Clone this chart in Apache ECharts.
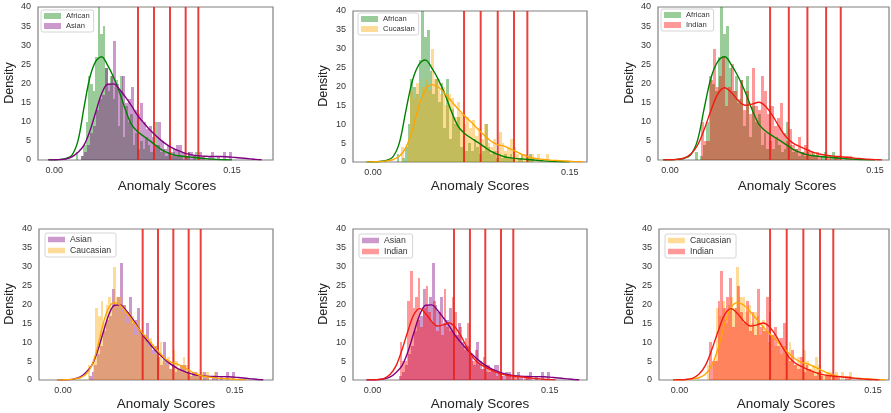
<!DOCTYPE html>
<html>
<head>
<meta charset="utf-8">
<script src="https://cdn.jsdelivr.net/npm/echarts@6/dist/echarts.min.js"></script>
<style>
  html, body { margin: 0; padding: 0; background: #fff; }
  #chart { width: 891px; height: 413px; }
</style>
</head>
<body>
<div id="chart"></div>
<script>
// ---- histogram bins (density), one set per group ----
const africanStart = 0.018
const africanWidth = 0.0021
const africanHist = [2, 0, 1, 4, 10, 22, 20, 18, 27, 40, 33, 35, 24, 18, 22, 16, 21, 9, 22, 6,
  14, 10, 12, 4, 7, 3, 5, 3, 6, 4, 2, 3, 10, 4, 2, 3, 1, 2, 1, 2,
  1, 2, 1, 0, 1, 2, 0, 1, 2, 1]

const asianStart = 0.0225
const asianWidth = 0.0025
const asianHist = [1, 2, 4, 7, 9, 13, 16, 17, 24, 20, 22, 31, 20, 18, 22, 15, 16, 19, 13, 12,
  15, 10, 8, 9, 6, 4, 10, 5, 3, 4, 2, 3, 4, 4, 2, 1, 2, 2, 1, 0,
  2, 1, 0, 1, 2, 0, 1, 0, 2, 0, 2]

const caucasianStart = 0.0215
const caucasianWidth = 0.00225
const caucasianHist = [4, 0, 5, 19, 17, 21, 15, 20, 22, 19, 30, 22, 22, 18, 20, 15, 18, 17, 12, 16,
  13, 10, 12, 9, 11, 7, 9, 6, 10, 5, 4, 6, 3, 8, 5, 3, 4, 6, 4, 2,
  1, 2, 2, 1, 2, 0, 2, 0, 0, 2]

const indianStart = 0.0229
const indianWidth = 0.0022
const indianHist = [10, 5, 5, 21, 29, 19, 22, 27, 14, 19, 25, 18, 15, 21, 13, 18, 12, 24, 14, 13,
  22, 18, 12, 14, 9, 11, 15, 7, 5, 8, 4, 3, 6, 2, 4, 3, 2, 1, 2, 1,
  0, 1, 1, 0, 1, 1, 0, 0, 1, 1]

// ---- KDE curves, sampled every kdeStep from kdeStart ----
const kdeStart = -0.005
const kdeStep = 0.005
const africanKde = [0.02, 0.05, 0.15, 0.4, 1.3, 5, 13.5, 21.5, 25.8, 27, 24.8, 21.7, 17.8, 13.2, 9.4, 7.5,
  6.3, 5.2, 4, 2.8, 2, 1.4, 1.1, 0.9, 0.75, 0.6, 0.45, 0.3, 0.2, 0.1, 0.05, 0.02]
const asianKde = [0.02, 0.05, 0.1, 0.3, 0.8, 2, 3.8, 7.5, 12.5, 17.3, 19.8, 19.9, 18.5, 16.5, 14.3, 11.8,
  9.9, 8.1, 6.6, 5.2, 4, 3.1, 2.4, 1.8, 1.4, 1.15, 1, 0.95, 0.9, 0.9, 0.85, 0.75, 0.6, 0.45, 0.3, 0.15, 0.05]
const caucasianKde = [0.02, 0.05, 0.1, 0.3, 0.6, 1.5, 3.8, 8.5, 14.8, 19.2, 20.5, 19.8, 18, 16, 14, 12.2,
  10.5, 8.7, 7, 5.5, 4.6, 4.2, 3.4, 2.6, 1.8, 1.2, 0.9, 0.7, 0.5, 0.4, 0.3, 0.2, 0.1, 0.05]
const indianKde = [0.02, 0.05, 0.15, 0.45, 1.5, 3.8, 8, 13, 17.3, 18.9, 17.6, 15.5, 14.3, 14.6, 15.1, 14,
  11.6, 8.6, 6, 4.4, 3.5, 2.7, 2, 1.5, 1.2, 1, 0.85, 0.7, 0.5, 0.35, 0.2, 0.1, 0.03]

// ---- panels ----
const panelPairs = [['African', 'Asian'], ['African', 'Caucasian'], ['African', 'Indian'],
  ['Asian', 'Caucasian'], ['Asian', 'Indian'], ['Caucasian', 'Indian']]
const panelLegendNames = [['African', 'Asian'], ['African', 'Cucasian'], ['African', 'Indian'],
  ['Asian', 'Caucasian'], ['Asian', 'Indian'], ['Caucasian', 'Indian']]
const panelXRange = [[-0.0137, 0.1846], [-0.0153, 0.1632], [-0.0088, 0.1602],
  [-0.0210, 0.1835], [-0.0165, 0.1816], [-0.0159, 0.1624]]
const panelThresholds = [
  [0.0707, 0.0842, 0.0977, 0.1109, 0.1216],
  [0.0694, 0.0821, 0.0951, 0.1075, 0.1177],
  [0.0732, 0.0869, 0.1005, 0.1142, 0.1249],
  [0.0696, 0.0830, 0.0964, 0.1098, 0.1203],
  [0.0690, 0.0825, 0.0955, 0.1088, 0.1192],
  [0.0702, 0.0831, 0.0960, 0.1089, 0.1192]
]
const xTickValues = [0, 0.15]
const yMax = 40
const yStep = 5
const xTitle = 'Anomaly Scores'
const yTitle = 'Density'

const groups = {
  African: { start: africanStart, width: africanWidth, hist: africanHist, kde: africanKde },
  Asian: { start: asianStart, width: asianWidth, hist: asianHist, kde: asianKde },
  Caucasian: { start: caucasianStart, width: caucasianWidth, hist: caucasianHist, kde: caucasianKde },
  Indian: { start: indianStart, width: indianWidth, hist: indianHist, kde: indianKde }
}

// styles
const FONT = '"Liberation Sans", Arial, sans-serif'
const fillColor = {
  African: 'rgba(0,128,0,0.4)',
  Asian: 'rgba(128,0,128,0.4)',
  Caucasian: 'rgba(255,165,0,0.4)',
  Indian: 'rgba(255,0,0,0.4)'
}
const lineColor = { African: '#008000', Asian: '#800080', Caucasian: '#ffa500', Indian: '#f01a10' }
const CUT_COLOR = 'rgba(232,30,25,0.85)'

// layout (pixels)
const gridBoxes = [
  { left: 38, top: 7, width: 235, height: 153 },
  { left: 353, top: 11, width: 234, height: 151 },
  { left: 658, top: 7, width: 231, height: 153 },
  { left: 39, top: 229, width: 234, height: 151 },
  { left: 353, top: 229, width: 234, height: 151 },
  { left: 659, top: 229, width: 230, height: 151 }
]
const legendPos = [[41, 10], [358, 13], [661, 9], [45, 233], [359, 234], [665, 234]]
const xTitlePos = [[167, 186], [480, 186], [787, 186], [166, 404], [480, 404], [786, 404]]
const yTitlePos = [[10, 83], [324, 86], [630, 83], [10, 304], [324, 304], [630, 304]]

function histData(g) {
  return g.hist.map((h, i) => [g.start + i * g.width, g.start + (i + 1) * g.width, h])
}

function kdeData(g) {
  return g.kde.map((v, i) => [kdeStart + i * kdeStep, v])
}

// snap bar edges to whole pixels so neighbouring bins meet without seams
function renderBar(params, api) {
  const top = api.coord([api.value(0), api.value(2)])
  const base = api.coord([api.value(1), 0])
  const x0 = Math.round(top[0])
  const x1 = Math.round(base[0])
  const y0 = Math.round(top[1])
  const y1 = Math.round(base[1])
  return {
    type: 'rect',
    shape: { x: x0, y: y0, width: x1 - x0, height: y1 - y0 },
    style: { fill: api.visual('color') }
  }
}

function renderCut(params, api) {
  const a = api.coord([api.value(0), 0])
  const b = api.coord([api.value(0), yMax])
  return {
    type: 'line',
    shape: { x1: a[0], y1: a[1], x2: b[0], y2: b[1] },
    style: { stroke: CUT_COLOR, lineWidth: 2 }
  }
}

const grid = []
const xAxis = []
const yAxis = []
const legend = []
const series = []
const graphic = []

panelPairs.forEach((pair, p) => {
  const bottomRow = p >= 3
  grid.push(Object.assign({ show: true, borderColor: '#808080', borderWidth: 1.2, containLabel: false, outerBoundsMode: 'none' }, gridBoxes[p]))
  xAxis.push({
    type: 'value', gridIndex: p,
    min: panelXRange[p][0], max: panelXRange[p][1],
    axisLine: { show: false }, axisTick: { show: false }, splitLine: { show: false },
    axisLabel: {
      customValues: xTickValues, formatter: v => v.toFixed(2),
      fontSize: 9, color: '#333', margin: 6, fontFamily: FONT
    }
  })
  yAxis.push({
    type: 'value', gridIndex: p, min: 0, max: yMax, interval: yStep,
    axisLine: { show: false }, axisTick: { show: false }, splitLine: { show: false },
    axisLabel: { fontSize: 9, color: '#333', margin: 7, fontFamily: FONT }
  })
  legend.push({
    left: legendPos[p][0], top: legendPos[p][1], orient: 'vertical',
    data: panelLegendNames[p], icon: 'rect',
    itemWidth: 17, itemHeight: bottomRow ? 5.5 : 6, itemGap: 2,
    textStyle: { fontSize: bottomRow ? 8.7 : 7.6, color: '#333', fontFamily: FONT },
    backgroundColor: '#fff', borderColor: '#d5d5d5', borderWidth: 1, borderRadius: 2,
    padding: bottomRow ? [2, 5, 2, 3] : [2, 4, 2, 3],
    selectedMode: false
  })

  // histograms first, then KDE lines, then cut lines on top
  pair.forEach((name, k) => {
    series.push({
      type: 'custom', name: panelLegendNames[p][k],
      xAxisIndex: p, yAxisIndex: p,
      renderItem: renderBar, clip: true,
      itemStyle: { color: fillColor[name] },
      encode: { x: [0, 1], y: 2 },
      data: histData(groups[name]),
      silent: true
    })
  })
  pair.forEach(name => {
    series.push({
      type: 'line', name: name + ' kde',
      xAxisIndex: p, yAxisIndex: p,
      data: kdeData(groups[name]), smooth: 0.35, showSymbol: false, symbol: 'none',
      lineStyle: { color: lineColor[name], width: 1.4 }, itemStyle: { color: lineColor[name] },
      clip: true, silent: true
    })
  })
  series.push({
    type: 'custom', name: 'cuts',
    xAxisIndex: p, yAxisIndex: p,
    renderItem: renderCut, clip: true,
    encode: { x: 0 },
    data: panelThresholds[p].map(v => [v]),
    silent: true
  })

  graphic.push({
    type: 'text', x: xTitlePos[p][0], y: xTitlePos[p][1],
    style: { text: xTitle, fontSize: 13.5, fontFamily: FONT, fill: '#222', textAlign: 'center', textVerticalAlign: 'middle' }
  })
  graphic.push({
    type: 'text', x: yTitlePos[p][0], y: yTitlePos[p][1], rotation: Math.PI / 2,
    style: { text: yTitle, fontSize: 12.5, fontFamily: FONT, fill: '#222', textAlign: 'center', textVerticalAlign: 'middle' }
  })
})

const chart = echarts.init(document.getElementById('chart'), null, { renderer: 'canvas' })
chart.setOption({
  animation: false,
  backgroundColor: '#fff',
  textStyle: { fontFamily: FONT },
  grid, xAxis, yAxis, legend, series, graphic
})
</script>
</body>
</html>
